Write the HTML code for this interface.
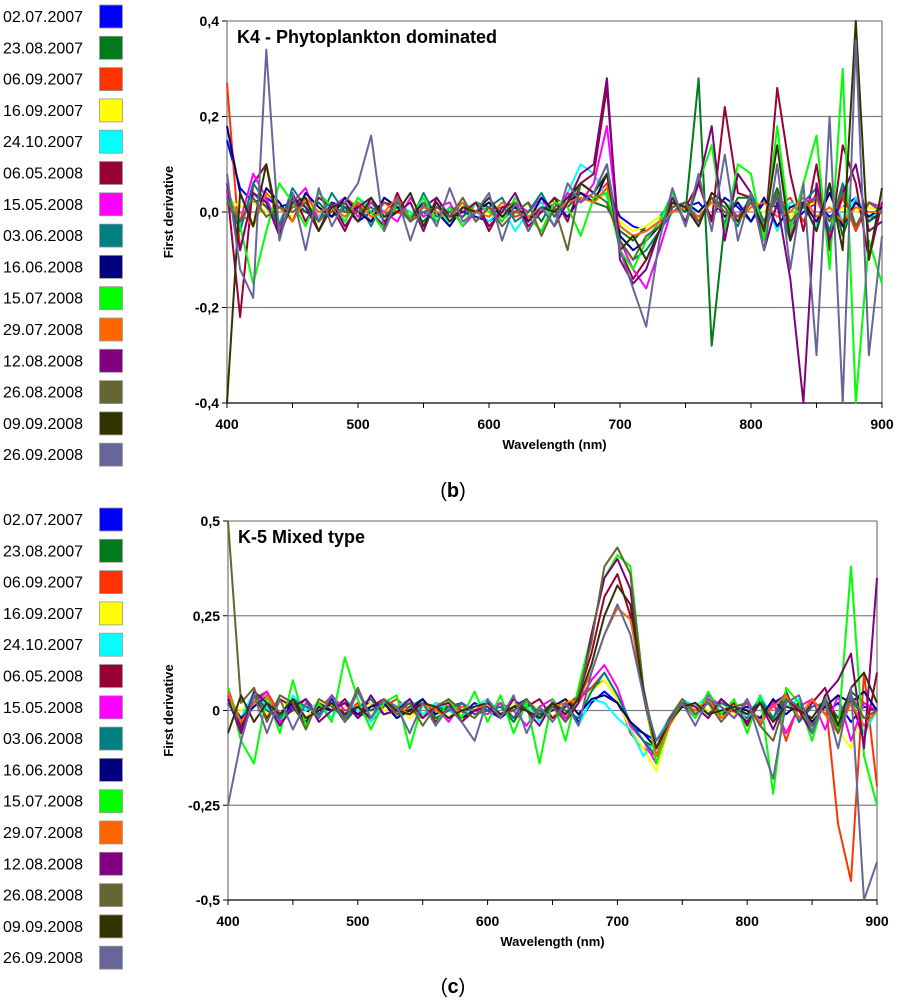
<!DOCTYPE html>
<html><head><meta charset="utf-8">
<style>
body{margin:0;background:#fff;width:898px;height:1000px;overflow:hidden;font-family:"Liberation Sans",Arial,sans-serif}
svg text{font-family:"Liberation Sans",Arial,sans-serif}
</style></head>
<body>
<svg id="chart" width="898" height="1000" viewBox="0 0 898 1000" xmlns="http://www.w3.org/2000/svg"></svg>
<script>
// Legend dates & colors
const dates = ["02.07.2007","23.08.2007","06.09.2007","16.09.2007","24.10.2007","06.05.2008","15.05.2008","03.06.2008","16.06.2008","15.07.2008","29.07.2008","12.08.2008","26.08.2008","09.09.2008","26.09.2008"];
const colors = ["#0000FF","#007A1A","#FF3300","#FFFF00","#00FFFF","#990033","#FF00FF","#008080","#000080","#00FF00","#FF6600","#800080","#666633","#333300","#666699"];
// Wavelength categories (nm), 400..900 step 10
const wavelengths = [400,410,420,430,440,450,460,470,480,490,500,510,520,530,540,550,560,570,580,590,600,610,620,630,640,650,660,670,680,690,700,710,720,730,740,750,760,770,780,790,800,810,820,830,840,850,860,870,880,890,900];
// Panel (b) K4 first-derivative values, in units of 0.01
const b_s1 = [15,5,2,3,1,2,0,-1,2,1,-2,0,2,1,-1,0,-2,1,0,-1,-2,0,1,-1,0,2,-1,3,2,5,-1,-3,-4,-2,0,1,2,-1,3,1,-2,2,1,-3,0,2,-1,1,3,-2,0];
const b_s2 = [2,-3,4,1,-2,3,0,2,-1,1,0,2,-1,1,0,-2,1,0,-1,2,1,-1,0,2,-2,3,1,4,2,1,-4,-6,-3,-1,2,0,28,-28,-2,3,3,-2,5,-3,2,-4,6,-5,3,-2,1];
const b_s3 = [27,-8,4,2,-3,1,2,-1,0,3,1,-2,2,0,-1,1,0,-2,1,0,0,1,-1,0,2,1,3,4,3,6,-3,-5,-4,-2,0,1,-1,2,1,-2,2,-3,1,3,-2,4,-5,3,-4,2,1];
const b_s4 = [3,1,2,0,1,-1,2,0,1,-1,0,1,-1,2,0,1,-1,0,1,0,0,-1,1,0,1,2,2,3,2,4,-2,-4,-3,-1,0,1,0,2,1,-1,1,0,2,-1,1,2,-2,1,0,1,0];
const b_s5 = [5,-3,4,2,-2,3,1,-1,2,-2,3,1,-2,2,0,-1,2,-3,1,0,-2,1,-4,0,2,-3,4,10,8,3,-5,-8,-6,-2,2,1,0,3,-1,2,-2,3,-4,2,1,-3,5,-2,3,-1,0];
const b_s6 = [5,-22,6,10,-3,4,-2,3,1,-4,2,0,-3,4,-2,1,3,-1,0,2,-4,1,2,-3,0,3,-2,6,8,26,-8,-14,-10,-4,2,1,6,-2,22,4,3,-6,26,8,-4,10,-8,14,6,-10,2];
const b_s7 = [4,-2,8,3,-4,2,5,-2,1,3,-1,2,0,-2,3,-1,1,2,-3,0,1,-2,2,0,3,-1,4,2,6,18,-6,-12,-16,-8,1,2,-3,4,2,-1,3,-2,4,-5,2,3,-4,5,-3,2,1];
const b_s8 = [3,-4,6,2,-3,5,1,-2,4,0,2,-3,3,1,-2,4,-1,0,2,-2,1,3,-2,0,4,-1,2,6,4,10,-6,-10,-8,-4,0,2,-2,3,1,-3,4,-2,3,-6,2,5,-4,6,-3,2,0];
const b_s9 = [18,4,-3,5,2,-2,4,1,-1,3,0,-2,3,1,-1,2,0,-3,1,0,2,-1,1,-2,3,0,2,4,2,8,-5,-8,-6,-3,1,2,0,3,-1,2,-2,3,-3,1,2,-2,4,-3,2,-1,1];
const b_s10 = [5,-3,-15,-4,6,2,-3,4,1,-2,3,0,-4,2,-1,3,-2,1,-3,2,0,-2,3,-1,-4,2,1,-5,3,4,-8,-12,-6,-2,4,-3,6,14,-4,10,8,-6,18,-4,6,16,-12,30,-40,-6,-15];
const b_s11 = [2,0,-3,4,1,-2,3,0,1,-1,2,-1,0,3,-2,1,0,-1,2,0,-1,2,0,-1,1,0,2,3,2,5,-3,-5,-4,-2,0,1,-1,2,0,-2,1,2,-1,0,3,-1,1,-2,1,0,0];
const b_s12 = [6,-8,4,2,-5,3,1,-4,2,-3,1,3,-2,0,2,-4,3,-1,0,2,-3,0,4,-2,1,-3,2,8,10,28,-10,-15,-12,-4,3,-2,6,18,-6,8,4,-8,2,-14,-40,6,-6,4,10,-4,-2];
const b_s13 = [2,-2,3,-1,1,0,2,-2,1,0,0,1,-1,2,-2,0,1,-1,3,-2,1,-3,0,2,-5,1,-8,6,4,2,-6,-10,-5,-3,1,2,-2,3,0,-1,2,-3,4,-2,1,3,-2,4,-3,2,0];
const b_s14 = [-40,4,-3,10,-5,2,3,-4,1,2,-2,3,-1,0,4,-3,2,-2,1,0,3,-1,2,-4,1,0,3,6,4,8,-8,-5,-10,-4,2,1,-3,4,2,-2,3,-4,14,-6,2,-4,6,-8,40,-10,5];
const b_s15 = [8,-12,-18,34,-6,4,-8,5,-3,2,6,16,-4,3,-6,2,-3,5,-2,0,4,-6,2,-4,1,-3,6,2,4,10,-8,-16,-24,-6,5,-3,8,-4,12,-6,4,-8,10,-12,6,-30,20,-40,36,-30,-5];
// Panel (c) K-5 values, in units of 0.01
const c_s1 = [3,-2,4,1,-3,2,0,-1,3,-2,1,2,-1,0,3,-2,1,0,-1,2,0,-2,1,3,-1,0,2,-3,2,5,2,-4,-6,-8,-2,1,0,2,-1,0,1,-3,2,4,-2,3,-1,2,-3,1,0];
const c_s2 = [2,-4,3,5,-2,0,3,-1,2,-3,1,0,2,-2,1,3,-2,0,2,-1,0,1,-3,2,0,-2,1,3,6,8,3,-4,-8,-10,-2,1,2,-1,3,0,-2,2,-3,4,0,-4,3,-2,5,2,0];
const c_s3 = [4,-3,2,5,-1,3,-2,0,4,-1,2,-3,1,3,0,-2,2,1,-3,0,2,-1,0,3,-2,1,-1,4,6,10,4,-6,-10,-12,-3,2,1,-2,3,-1,2,-4,3,-8,2,-6,4,-30,-45,10,-20];
const c_s4 = [2,0,3,-1,2,1,-2,3,0,1,-1,2,0,1,-2,1,0,2,-1,0,1,-1,2,0,1,-2,3,2,5,8,3,-5,-10,-16,-4,1,2,0,1,-1,0,2,-3,1,2,-4,3,-5,-10,2,0];
const c_s5 = [3,-2,5,1,-3,4,0,2,-2,3,0,-3,2,1,3,-1,2,0,-2,1,3,-1,0,2,-3,1,2,-4,3,2,-2,-5,-12,-8,-2,3,1,4,-1,2,-3,4,-2,1,3,-5,2,-4,3,-6,0];
const c_s6 = [6,-5,4,-2,3,1,-4,2,0,3,-2,1,3,-1,0,2,-3,1,2,-1,0,2,-2,1,3,-2,1,4,15,30,36,25,4,-12,-4,2,0,3,-1,2,-4,3,-2,5,-3,2,6,-4,3,-8,10];
const c_s7 = [4,-6,2,5,-3,1,3,-2,4,0,1,-2,3,0,-1,2,1,-3,2,0,-1,2,0,-4,1,3,-2,2,8,12,6,-4,-8,-14,-3,2,-2,4,1,-2,3,-4,2,-6,1,3,-5,4,-8,2,0];
const c_s8 = [2,-3,4,0,-2,3,1,-1,2,-2,1,3,-1,0,2,-2,1,0,2,-1,0,1,-2,3,-1,2,0,-2,5,10,4,-3,-8,-12,-3,1,2,-1,2,0,-1,3,-2,4,-3,1,2,-4,3,-2,0];
const c_s9 = [3,-2,1,4,-1,2,-3,1,0,2,-1,1,2,-2,0,3,-1,1,-2,0,2,-1,1,0,-2,1,3,-1,3,4,2,-3,-6,-10,-2,1,0,2,-1,1,0,-2,3,-1,2,-3,1,4,2,5,0];
const c_s10 = [6,-8,-14,4,-6,8,-4,2,-3,14,3,-5,2,4,-10,2,-4,3,-2,5,-3,4,-6,2,-14,3,-8,6,20,35,41,38,6,-14,-4,3,-2,5,-1,3,-6,4,-22,6,2,-8,4,-6,38,-12,-25];
const c_s11 = [5,-3,2,4,-1,3,-2,0,2,-1,1,-2,3,1,-1,2,0,-2,1,0,2,-1,0,3,-2,1,2,3,10,20,27,24,6,-12,-4,2,0,3,-2,1,2,-3,1,4,-2,3,-1,-6,2,-4,0];
const c_s12 = [3,-6,5,2,-4,1,3,-3,0,2,-2,4,-1,0,3,-2,1,2,-3,0,1,-2,3,0,-4,2,-3,2,20,35,40,32,5,-10,-3,2,1,-2,3,0,-3,2,-5,3,0,-6,4,8,15,-10,35];
const c_s13 = [50,2,6,-3,4,2,-5,3,1,-2,6,-2,3,-1,2,-4,1,3,0,-2,2,-1,0,3,-2,1,-3,4,18,38,43,36,6,-10,-2,3,-1,2,-3,1,2,-4,-8,3,1,-4,2,-6,4,-2,0];
const c_s14 = [-6,4,-3,2,-1,3,-2,0,2,-1,1,-2,3,0,-1,2,1,-2,0,1,2,-1,1,0,-2,2,-1,3,12,25,33,28,5,-10,-3,1,2,-1,0,1,-1,2,-3,1,0,-2,3,-4,6,10,2];
const c_s15 = [-25,-8,4,-6,3,-5,2,-2,4,-3,5,-2,3,1,-6,2,-4,1,-3,-8,3,-2,4,-6,1,-3,2,-4,10,20,28,20,4,-8,-3,2,-4,3,1,-2,3,-8,-18,2,4,-6,3,-10,6,-50,-40];
const bTicks = ["0,4","0,2","0,0","-0,2","-0,4"];
const bTickVals = [0.4,0.2,0,-0.2,-0.4];
const cTicks = ["0,5","0,25","0","-0,25","-0,5"];
const cTickVals = [0.5,0.25,0,-0.25,-0.5];
const xTickVals = [400,500,600,700,800,900];

const bSeries=[b_s1,b_s2,b_s3,b_s4,b_s5,b_s6,b_s7,b_s8,b_s9,b_s10,b_s11,b_s12,b_s13,b_s14,b_s15];
const cSeries=[c_s1,c_s2,c_s3,c_s4,c_s5,c_s6,c_s7,c_s8,c_s9,c_s10,c_s11,c_s12,c_s13,c_s14,c_s15];
const NS="http://www.w3.org/2000/svg";
const svg=document.getElementById('chart');
function mk(tag,attrs,parent,text){const e=document.createElementNS(NS,tag);for(const k in attrs)e.setAttribute(k,attrs[k]);if(text!==undefined)e.textContent=text;(parent||svg).appendChild(e);return e;}

function panel(cfg){
  const g=mk('g',{});
  
  
  const X=v=>cfg.x0+(v-400)/500*(cfg.x1-cfg.x0);
  const Y=v=>cfg.y0+(cfg.ymax-v)/(2*cfg.ymax)*(cfg.y1-cfg.y0);
  cfg.tickVals.forEach((tv,i)=>{
    const y=Y(tv);
    if(i<cfg.tickVals.length-1){
      const gl=mk('line',{x1:cfg.x0,x2:cfg.x1,y1:y,y2:y,stroke:'#808080','stroke-width':1.3},g);
      
      
    }
    mk('line',{x1:cfg.x0-5,x2:cfg.x0,y1:y,y2:y,stroke:'#000','stroke-width':1},g);
    const t=mk('text',{x:cfg.x0-8,y:y+5,'text-anchor':'end','font-size':14,'font-weight':'bold'},g,cfg.tickLabels[i]);
    
    
  });
  mk('line',{x1:cfg.x0,x2:cfg.x0,y1:cfg.y0,y2:cfg.y1,stroke:'#808080','stroke-width':1.3},g);
  mk('line',{x1:cfg.x1,x2:cfg.x1,y1:cfg.y0,y2:cfg.y1,stroke:'#808080','stroke-width':1.3},g);
  const ax=mk('line',{x1:cfg.x0,x2:cfg.x1,y1:cfg.y1,y2:cfg.y1,stroke:'#000','stroke-width':1.3},g);
  
  
  for(let w=400;w<=900;w+=50){mk('line',{x1:X(w),x2:X(w),y1:cfg.y1,y2:cfg.y1+5,stroke:'#000','stroke-width':1},g);}
  xTickVals.forEach(w=>{
    const t=mk('text',{x:X(w),y:cfg.y1+26,'text-anchor':'middle','font-size':14,'font-weight':'bold'},g,String(w));
    
    
  });
  cfg.series.forEach((s,si)=>{
    const pts=s.map((v,i)=>{let vv=Math.max(-cfg.ymax,Math.min(cfg.ymax,v/100));return X(wavelengths[i]).toFixed(1)+','+Y(vv).toFixed(1);}).join(' ');
    const p=mk('polyline',{points:pts,fill:'none',stroke:colors[si],'stroke-width':2,'stroke-linejoin':'round'},g);
    
    
  });
  const tt=mk('text',{x:cfg.x0+10,y:cfg.y0+22,'font-size':18,'font-weight':'bold'},g,cfg.title);
  
  
  const yt=mk('text',{x:0,y:0,'text-anchor':'middle','font-size':13,'font-weight':'bold',transform:`translate(173,${(cfg.y0+cfg.y1)/2}) rotate(-90)`},g,'First derivative');
  
  
  const xt=mk('text',{x:(cfg.x0+cfg.x1)/2,y:cfg.y1+46,'text-anchor':'middle','font-size':13,'font-weight':'bold'},g,'Wavelength (nm)');
  
  
  const cap=mk('text',{x:453,y:cfg.capY,'text-anchor':'middle','font-size':20,'font-family':'Liberation Serif, serif'},g);
  
  
  mk('tspan',{},cap,'(');mk('tspan',{'font-weight':'bold'},cap,cfg.cap);mk('tspan',{},cap,')');
  const lg=mk('g',{},g);
  
  
  dates.forEach((d,i)=>{
    const y=cfg.legY+i*31.3;
    const e=mk('g',{},lg);
    
    
    mk('text',{x:3,y:y+6,'font-size':16},e,d);
    mk('rect',{x:99.5,y:y-11,width:23,height:23,fill:colors[i],stroke:'#999','stroke-width':0.8},e);
  });
}
panel({name:'panel-b-k4',x0:227,x1:882,y0:21,y1:403,ymax:0.4,tickVals:bTickVals,tickLabels:bTicks,series:bSeries,title:'K4 - Phytoplankton dominated',cap:'b',capY:497,legY:16});
panel({name:'panel-c-k5',x0:228,x1:877,y0:521,y1:900,ymax:0.5,tickVals:cTickVals,tickLabels:cTicks,series:cSeries,title:'K-5 Mixed type',cap:'c',capY:993,legY:519});
</script>
</body></html>
